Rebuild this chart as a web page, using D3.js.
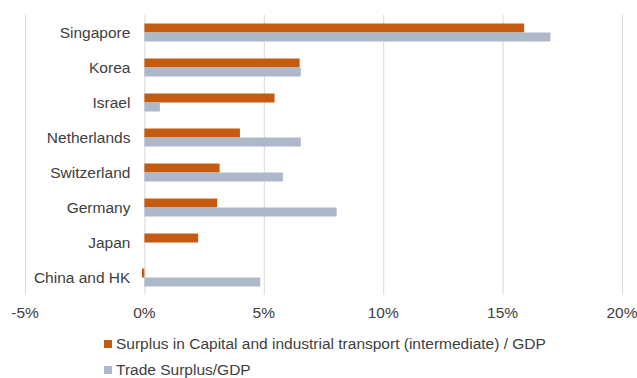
<!DOCTYPE html>
<html>
<head>
<meta charset="utf-8">
<script src="https://cdn.jsdelivr.net/npm/d3@7"></script>
<style>
  body { margin: 0; background: #fff; }
  text { font-family: "Liberation Sans", Arial, sans-serif; fill: #404040; }
</style>
</head>
<body>
<div id="chart"></div>
<script>
// Surplus vs trade surplus, share of GDP
const countries = ['Singapore', 'Korea', 'Israel', 'Netherlands', 'Switzerland', 'Germany', 'Japan', 'China and HK'];
const capitalSurplus = [15.9, 6.5, 5.45, 4.0, 3.15, 3.05, 2.25, -0.1];
const tradeSurplus = [17.0, 6.55, 0.65, 6.55, 5.8, 8.05, 0, 4.85];
const seriesNames = ['Surplus in Capital and industrial transport (intermediate) / GDP', 'Trade Surplus/GDP'];
const seriesColors = ['#c55a11', '#adb9ca'];
const xTicks = [-5, 0, 5, 10, 15, 20];

const W = 637, H = 378;
const margin = { top: 15, right: 15, bottom: 83, left: 25 };
const innerW = W - margin.left - margin.right;
const innerH = H - margin.top - margin.bottom;
const fontSize = '15.5px';

const svg = d3.select('#chart').append('svg')
    .attr('width', W)
    .attr('height', H);

const g = svg.append('g')
    .attr('transform', `translate(${margin.left},${margin.top})`);

const x = d3.scaleLinear().domain([-5, 20]).range([0, 597]);
const y = d3.scaleBand().domain(countries).range([0, innerH]);
const sub = d3.scaleBand().domain([0, 1]).range([y.bandwidth() / 2 - 9, y.bandwidth() / 2 + 9]);

// gridlines
g.selectAll('.grid')
    .data(xTicks)
    .enter().append('line')
    .attr('class', 'grid')
    .attr('x1', d => x(d) + 0.5)
    .attr('x2', d => x(d) + 0.5)
    .attr('y1', 0)
    .attr('y2', innerH)
    .attr('stroke', '#d9d9d9')
    .attr('stroke-width', 1);

// tick labels
g.selectAll('.tick-label')
    .data(xTicks)
    .enter().append('text')
    .attr('class', 'tick-label')
    .attr('x', d => x(d))
    .attr('y', innerH + 18)
    .attr('dy', '0.35em')
    .attr('text-anchor', 'middle')
    .style('font-size', fontSize)
    .text(d => d + '%');

// bars
const series = [capitalSurplus, tradeSurplus];
series.forEach((vals, si) => {
    g.selectAll('.bar-' + si)
        .data(vals.map((v, i) => ({ name: countries[i], v })))
        .enter().append('rect')
        .attr('class', 'bar-' + si)
        .attr('x', d => x(Math.min(0, d.v)))
        .attr('width', d => Math.abs(x(d.v) - x(0)))
        .attr('y', d => y(d.name) + sub(si))
        .attr('height', sub.bandwidth())
        .attr('fill', seriesColors[si]);
});

// category labels
g.selectAll('.cat')
    .data(countries)
    .enter().append('text')
    .attr('class', 'cat')
    .attr('x', x(0) - 14)
    .attr('y', d => y(d) + y.bandwidth() / 2)
    .attr('dy', '0.35em')
    .attr('text-anchor', 'end')
    .style('font-size', fontSize)
    .text(d => d);

// legend
const legend = svg.append('g')
    .attr('transform', 'translate(104,338)');
seriesNames.forEach((name, i) => {
    const row = legend.append('g').attr('transform', `translate(0,${i * 26})`);
    row.append('rect')
        .attr('width', 8)
        .attr('height', 8)
        .attr('y', 2)
        .attr('fill', seriesColors[i]);
    row.append('text')
        .attr('x', 12)
        .attr('y', 6)
        .attr('dy', '0.35em')
        .style('font-size', fontSize)
        .text(name);
});
</script>
</body>
</html>
